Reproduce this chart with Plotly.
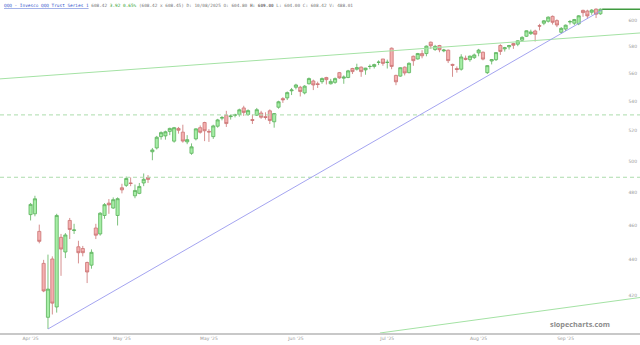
import numpy as np
import pandas as pd
import plotly.graph_objects as go

# ---- data (QQQ daily) ----
holidays = ["2025-04-18", "2025-05-26", "2025-06-19", "2025-07-04", "2025-09-01"]
dates = pd.bdate_range("2025-04-01", "2025-10-08", freq="C", holidays=holidays)

opens_apr = [466.5, 467.0, 456.5, 438.0, 408.5, 440.5, 414.0, 453.0, 444.5, 463.0, 457.0,
             447.5, 446.5, 438.5, 437.0, 458.5, 455.0, 466.0, 473.5, 470.5, 466.0]
highs_apr = [473.6, 478.0, 460.5, 440.0, 443.0, 442.0, 467.0, 455.0, 455.5, 464.5, 461.0,
             451.0, 448.0, 439.0, 446.0, 461.0, 468.0, 473.5, 476.0, 477.0, 477.0]
lows_apr = [463.0, 465.5, 449.5, 422.0, 402.4, 410.0, 411.0, 431.0, 441.0, 452.0, 455.0,
            438.0, 442.0, 427.0, 435.0, 452.0, 454.0, 464.0, 467.0, 470.0, 460.0]
closes_apr = [472.7, 476.15, 450.66, 422.67, 423.69, 416.06, 466.0, 446.18, 454.4, 457.61, 457.35,
              444.08, 444.1, 433.15, 444.31, 454.26, 467.35, 472.56, 472.42, 475.61, 476.23]

opens_may = [483.0, 484.5, 486.0, 478.0, 479.5, 486.0, 489.5, 506.0, 508.5, 516.0, 516.5,
             519.5, 513.0, 521.5, 519.0, 512.5, 505.0, 514.5, 522.0, 525.5, 519.5]
highs_may = [485.5, 490.0, 489.5, 485.0, 486.0, 492.0, 491.0, 508.5, 516.5, 519.5, 520.0,
             522.0, 522.5, 522.5, 524.0, 517.0, 511.5, 521.5, 523.5, 526.0, 521.0]
lows_may = [479.5, 483.5, 484.0, 476.5, 479.0, 484.0, 486.0, 500.5, 507.5, 514.0, 514.0,
            517.0, 512.0, 518.0, 512.0, 511.0, 504.0, 513.5, 518.0, 513.0, 512.5]
closes_may = [481.68, 488.83, 485.69, 481.31, 483.82, 488.29, 488.24, 507.2, 515.59, 518.68, 519.25,
              521.51, 522.01, 520.27, 513.04, 514.0, 509.24, 521.22, 518.91, 519.93, 519.11]

opens_jun = [516.0, 523.0, 528.5, 530.5, 529.5, 530.5, 531.0, 535.5, 531.0, 527.5,
             530.5, 532.0, 529.5, 533.5, 526.0, 536.0, 542.0, 542.5, 547.5, 550.0]
highs_jun = [524.0, 528.0, 530.0, 533.5, 531.0, 531.5, 535.0, 537.0, 534.5, 531.0,
             535.5, 533.5, 532.5, 534.5, 532.0, 540.5, 543.0, 547.0, 549.5, 552.5]
lows_jun = [514.5, 522.0, 527.0, 522.5, 527.5, 529.0, 529.5, 530.0, 530.0, 524.5,
            530.0, 528.0, 527.5, 524.5, 522.0, 535.0, 539.0, 541.0, 544.5, 548.5]
closes_jun = [523.21, 527.3, 528.82, 524.79, 529.92, 530.7, 534.21, 532.41, 533.66, 526.96,
              534.29, 529.08, 528.99, 526.83, 531.65, 539.78, 541.16, 546.22, 548.09, 551.64]

opens_jul = [550.0, 546.0, 552.5, 554.5, 552.5, 554.0, 557.0, 552.5, 553.5, 560.5, 556.5,
             557.0, 563.5, 563.0, 564.5, 562.5, 565.0, 565.0, 568.0, 570.5, 568.0, 578.5]
highs_jul = [551.0, 551.5, 557.0, 555.5, 554.0, 557.0, 557.5, 556.0, 557.0, 561.0, 558.5,
             562.5, 564.0, 567.0, 565.0, 564.0, 566.5, 567.0, 569.5, 570.5, 570.0, 579.0]
lows_jul = [543.5, 545.0, 552.0, 548.0, 549.5, 552.5, 552.0, 552.0, 552.5, 556.0, 552.5,
            556.5, 559.5, 562.0, 557.5, 559.0, 563.0, 563.5, 566.0, 565.5, 563.5, 563.0]
closes_jul = [546.99, 550.8, 556.22, 551.64, 552.03, 556.25, 555.45, 554.2, 556.21, 556.72, 557.29,
              561.8, 561.26, 564.17, 561.25, 563.81, 565.01, 566.37, 568.14, 567.26, 568.02, 565.01]

opens_aug = [558.5, 558.0, 564.5, 560.5, 572.5, 570.5, 574.5, 574.5, 583.0, 577.5, 580.5,
             576.5, 577.0, 566.5, 563.5, 563.0, 571.0, 570.0, 571.5, 575.0, 575.5]
highs_aug = [559.0, 564.5, 565.0, 568.0, 573.0, 575.0, 577.0, 580.5, 583.5, 581.0, 581.0,
             578.0, 577.5, 567.0, 565.0, 574.0, 573.0, 573.0, 574.5, 578.0, 576.0]
lows_aug = [551.5, 557.5, 558.5, 560.0, 565.5, 570.0, 571.0, 572.5, 578.0, 576.5, 575.5,
            575.5, 567.5, 557.5, 560.5, 562.0, 569.5, 568.5, 570.5, 572.5, 569.5]
closes_aug = [553.88, 564.1, 560.27, 567.32, 569.24, 574.55, 572.85, 580.05, 580.34, 579.89, 577.34,
              577.11, 569.28, 565.9, 562.81, 571.97, 570.32, 572.61, 573.49, 577.08, 570.4]

opens_sep = [560.5, 569.0, 570.0, 580.5, 578.0, 579.5, 582.0, 581.5, 584.5, 587.5, 589.5,
             591.5, 595.5, 597.5, 599.0, 602.8, 599.5, 590.5, 593.0, 598.5, 597.5]
highs_sep = [566.0, 570.5, 575.5, 581.5, 579.5, 581.0, 582.5, 584.5, 587.5, 592.0, 592.5,
             592.5, 597.0, 600.0, 602.8, 603.5, 600.5, 594.5, 596.5, 600.0, 600.8]
lows_sep = [559.5, 566.5, 569.0, 573.5, 576.0, 577.5, 578.0, 580.0, 584.0, 587.0, 588.5,
            583.5, 592.0, 596.0, 598.0, 596.5, 594.5, 589.5, 591.5, 596.5, 596.0]
closes_sep = [565.62, 570.07, 575.23, 576.06, 578.87, 580.51, 580.7, 584.08, 586.66, 591.68, 590.8,
              589.0, 595.32, 599.35, 602.2, 598.2, 596.1, 593.53, 595.97, 598.73, 600.37]

opens_oct = [597.0, 607.5, 607.0, 606.0, 608.5, 604.8]
highs_oct = [603.8, 608.0, 608.0, 608.5, 609.0, 609.0]
lows_oct = [596.0, 602.5, 601.0, 604.0, 601.5, 604.0]
closes_oct = [603.25, 605.73, 603.18, 607.71, 604.51, 608.42]

opens = opens_apr + opens_may + opens_jun + opens_jul + opens_aug + opens_sep + opens_oct
highs = highs_apr + highs_may + highs_jun + highs_jul + highs_aug + highs_sep + highs_oct
lows = lows_apr + lows_may + lows_jun + lows_jul + lows_aug + lows_sep + lows_oct
closes = closes_apr + closes_may + closes_jun + closes_jul + closes_aug + closes_sep + closes_oct

# bar index: 0 = the April 7 low
anchor = list(dates).index(pd.Timestamp("2025-04-07"))
x = np.arange(len(dates)) - anchor

tick_dates = ["2025-04-01", "2025-05-01", "2025-05-30", "2025-06-30",
              "2025-07-30", "2025-08-28", "2025-09-26"]
tick_idx = [list(dates).index(pd.Timestamp(d)) - anchor for d in tick_dates]
tick_text = [pd.Timestamp(d).strftime("%b '%y") for d in tick_dates]

y_ticks = [420, 440, 460, 480, 500, 520, 540, 560, 580, 600]

# drawn lines
x_range = [-11.03, 136.1]
y_range = [400.3, 615.7]
trend_up_x = [0, 127.3]          # from the April low to the last bar
trend_up_y = [402.39, 607.6]
resist_x = x_range
resist_y = [556.0, 590.0]
lower_x = [76.3, 136.1]
lower_y = [400.3, 419.1]
level_hi = 530.7
level_lo = 489.6
last_close = closes[-1]

fig = go.Figure()
fig.add_trace(go.Candlestick(
    x=x, open=opens, high=highs, low=lows, close=closes,
    increasing=dict(line=dict(color="#5cb25c", width=0.8), fillcolor="#a6eea6"),
    decreasing=dict(line=dict(color="#cc7474", width=0.8), fillcolor="#f4b0b0"),
    whiskerwidth=0, showlegend=False, hoverinfo="skip"))

line_style = dict(mode="lines", showlegend=False, hoverinfo="skip")
fig.add_trace(go.Scatter(x=x_range, y=[level_hi, level_hi],
                         line=dict(color="#acdcac", width=1, dash="4px,3px"), **line_style))
fig.add_trace(go.Scatter(x=x_range, y=[level_lo, level_lo],
                         line=dict(color="#acdcac", width=1, dash="4px,3px"), **line_style))
fig.add_trace(go.Scatter(x=resist_x, y=resist_y, line=dict(color="#a4e2a4", width=1), **line_style))
fig.add_trace(go.Scatter(x=lower_x, y=lower_y, line=dict(color="#a4e2a4", width=1), **line_style))
fig.add_trace(go.Scatter(x=trend_up_x, y=trend_up_y, line=dict(color="#9a9aee", width=0.9), **line_style))
fig.add_trace(go.Scatter(x=[x[-1] + 0.4, x_range[1]], y=[last_close, last_close],
                         line=dict(color="#3f9a3f", width=1.5), **line_style))

header = ('<span style="color:#3355cc"><u>QQQ - Invesco QQQ Trust Series 1</u></span> '
          '<span style="color:#777">608.42</span> '
          '<span style="color:#2ea02e">3.92 0.65%</span> '
          '<span style="color:#777">(608.42 x 608.45) D: 10/08/2025 O: 604.80 </span>'
          '<b>H: 609.00</b>'
          '<span style="color:#777"> L: 604.00 C: 608.42 V: 488.01</span>')

fig.update_layout(
    width=640, height=345,
    margin=dict(l=0, r=0, t=0, b=12),
    paper_bgcolor="white", plot_bgcolor="white",
    boxgap=0.15, boxgroupgap=0.15,
    xaxis=dict(range=x_range, rangeslider=dict(visible=False), showgrid=False, zeroline=False,
               tickmode="array", tickvals=tick_idx, ticktext=tick_text, ticks="",
               tickfont=dict(size=4.5, color="#999", family="DejaVu Sans"),
               showline=True, linecolor="#c8c8c8", linewidth=2),
    yaxis=dict(type="log", range=[np.log10(y_range[0]), np.log10(y_range[1])], side="right",
               ticklabelposition="inside", tickmode="array", tickvals=y_ticks,
               ticktext=[str(v) for v in y_ticks], ticks="", showgrid=False, zeroline=False,
               tickfont=dict(size=4.5, color="#999", family="DejaVu Sans")),
    annotations=[
        dict(text=header, xref="paper", yref="paper", x=0.003, y=0.982, xanchor="left",
             yanchor="middle", showarrow=False,
             font=dict(size=4.4, family="DejaVu Sans Mono", color="#777")),
        dict(text="<b>slopecharts.com</b>", xref="paper", yref="paper", x=0.956, y=0.026,
             xanchor="right", yanchor="middle", showarrow=False,
             font=dict(size=7.3, family="Open Sans", color="#8c8c8c")),
    ],
)

fig.write_html("out.html", config={"displayModeBar": False})
